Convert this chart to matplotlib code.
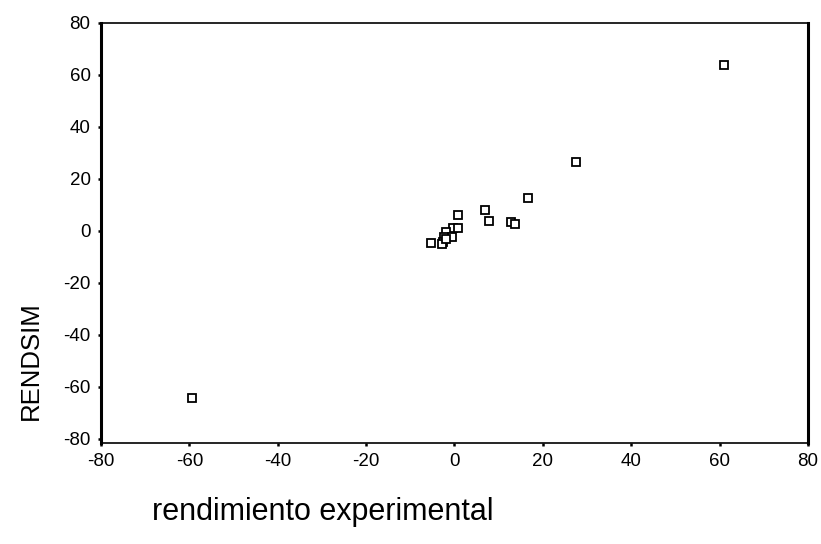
import matplotlib.pyplot as plt

plt.rcParams['font.family'] = ['Liberation Sans', 'DejaVu Sans']
plt.rcParams['axes.unicode_minus'] = False

# rendimiento experimental vs RENDSIM
rend_exp = [61.0, 27.5, 16.7, 0.7, 7.0, 7.8, 12.7, 13.7, -0.4, 0.8,
            -1.9, -0.6, -2.4, -2.5, -5.3, -2.7, -2.0, -59.5]
rendsim = [63.9, 26.6, 12.7, 6.2, 8.1, 3.9, 3.3, 2.5, 1.1, 1.1,
           -0.4, -2.4, -2.2, -4.2, -4.6, -5.2, -3.0, -64.4]

ticks = [-80, -60, -40, -20, 0, 20, 40, 60, 80]

fig = plt.figure(figsize=(8.21, 5.44), dpi=100)
ax = fig.add_axes([0.123, 0.186, 0.861, 0.772])

ax.plot(rend_exp, rendsim, 's', ls='none', ms=5.5, mfc='white',
        mec='black', mew=1.3)

ax.set_xlim(-80, 80)
ax.set_ylim(-81.5, 80)
ax.set_xticks(ticks)
ax.set_yticks(ticks)
ax.tick_params(direction='out', length=2.5, width=1.8, labelsize=13.5,
               pad=5, colors='black')

for side in ['left', 'right']:
    ax.spines[side].set_linewidth(2.2)
for side in ['top', 'bottom']:
    ax.spines[side].set_linewidth(1.2)

fig.text(0.037, 0.338, 'RENDSIM', rotation=90, fontsize=18.5,
         ha='center', va='center')
fig.text(0.185, 0.045, 'rendimiento experimental', fontsize=22,
         ha='left', va='baseline')

fig.savefig('out.png', dpi=100)
